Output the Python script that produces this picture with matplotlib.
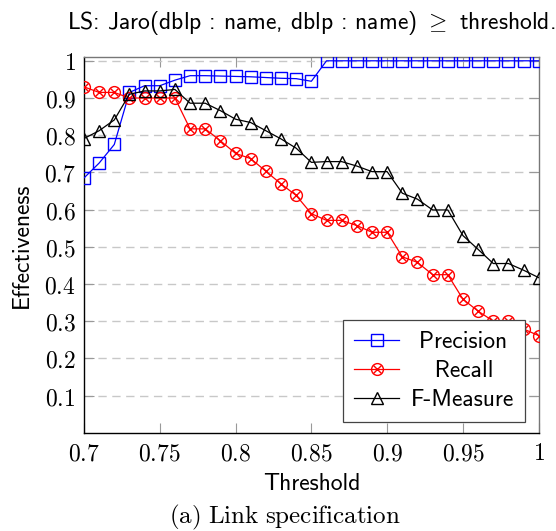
import matplotlib
matplotlib.use("Agg")
import matplotlib.pyplot as plt
from matplotlib.legend_handler import HandlerTuple

plt.rcParams['mathtext.fontset'] = 'cm'
plt.rcParams['axes.unicode_minus'] = False

thresholds = [0.70, 0.71, 0.72, 0.73, 0.74, 0.75, 0.76, 0.77, 0.78, 0.79, 0.80,
              0.81, 0.82, 0.83, 0.84, 0.85, 0.86, 0.87, 0.88, 0.89, 0.90,
              0.91, 0.92, 0.93, 0.94, 0.95, 0.96, 0.97, 0.98, 0.99, 1.00]
precision = [0.685, 0.725, 0.775, 0.915, 0.933, 0.933, 0.948, 0.960, 0.960, 0.959, 0.958,
             0.957, 0.955, 0.953, 0.952, 0.945, 1.0, 1.0, 1.0, 1.0, 1.0,
             1.0, 1.0, 1.0, 1.0, 1.0, 1.0, 1.0, 1.0, 1.0, 1.0]
recall = [0.930, 0.915, 0.915, 0.900, 0.900, 0.900, 0.900, 0.817, 0.817, 0.785, 0.751,
          0.737, 0.703, 0.669, 0.638, 0.589, 0.571, 0.571, 0.557, 0.539, 0.539,
          0.473, 0.458, 0.425, 0.425, 0.359, 0.327, 0.300, 0.300, 0.279, 0.261]
fmeasure = [0.791, 0.812, 0.841, 0.910, 0.919, 0.919, 0.923, 0.886, 0.886, 0.866, 0.843,
            0.834, 0.812, 0.790, 0.765, 0.727, 0.729, 0.729, 0.717, 0.702, 0.702,
            0.644, 0.628, 0.599, 0.599, 0.530, 0.493, 0.455, 0.455, 0.437, 0.417]

xticks = [0.7, 0.75, 0.8, 0.85, 0.9, 0.95, 1.0]
xticklabels = ['0.7', '0.75', '0.8', '0.85', '0.9', '0.95', '1']
yticks = [0.1, 0.2, 0.3, 0.4, 0.5, 0.6, 0.7, 0.8, 0.9, 1.0]
yticklabels = ['0.1', '0.2', '0.3', '0.4', '0.5', '0.6', '0.7', '0.8', '0.9', '1']

fig = plt.figure(figsize=(5.56, 5.31), dpi=100)
ax = fig.add_axes([0.151, 0.185, 0.818, 0.7075])

# precision: open blue squares
p_line, = ax.plot(thresholds, precision, color='blue', lw=0.9, marker='s', ms=8,
                  mfc='none', mec='blue', mew=1.0, zorder=3)
# recall: circle with a cross inside
r_line, = ax.plot(thresholds, recall, color='red', lw=0.9, marker='o', ms=8.5,
                  mfc='none', mec='red', mew=1.0, zorder=4)
r_x, = ax.plot(thresholds, recall, ls='none', marker='x', ms=6, mec='red', mew=1.0, zorder=4)
f_line, = ax.plot(thresholds, fmeasure, color='black', lw=0.9, marker='^', ms=8,
                  mfc='none', mec='black', mew=1.0, zorder=5)

ax.set_xlim(0.7, 1.0)
ax.set_ylim(0, 1.01)
ax.set_xticks(xticks)
ax.set_xticklabels(['$' + t + '$' for t in xticklabels], fontsize=17)
ax.set_yticks(yticks)
ax.set_yticklabels(['$' + t + '$' for t in yticklabels], fontsize=17)
ax.tick_params(direction='in', length=7, width=0.8, color='#999999',
               top=True, right=True, pad=6)

ax.yaxis.grid(True, color='#c8c8c8', lw=1.0, ls=(0, (6, 4)))
ax.set_axisbelow(True)

ax.spines['left'].set_color('black')
ax.spines['bottom'].set_color('black')
ax.spines['top'].set_color('#777777')
ax.spines['right'].set_color('#777777')
for s in ax.spines.values():
    s.set_linewidth(1.0)

ax.set_xlabel('Threshold', family='cmss10', fontsize=17, labelpad=6)
ax.set_ylabel('Effectiveness', family='cmss10', fontsize=17, labelpad=8)
ax.set_title(r'LS: Jaro(dblp : name, dblp : name) $\geq$ threshold.',
             family='cmss10', fontsize=17, pad=20)

leg = ax.legend([p_line, (r_line, r_x), f_line],
                [' Precision', '   Recall', 'F-Measure'],
                handler_map={tuple: HandlerTuple(ndivide=1)},
                loc='lower right', bbox_to_anchor=(0.969, 0.029), borderaxespad=0,
                numpoints=1, fancybox=False, framealpha=1, edgecolor='#444444',
                prop={'family': 'cmss10', 'size': 17}, borderpad=0.45,
                labelspacing=0.3, handlelength=1.9, handletextpad=0.5)
leg.get_frame().set_linewidth(0.9)

fig.text(0.512, 0.0135, r'$\mathrm{(a)\ Link\ specification}$', fontsize=18,
         ha='center', va='baseline')

fig.savefig('out.png', dpi=100)
